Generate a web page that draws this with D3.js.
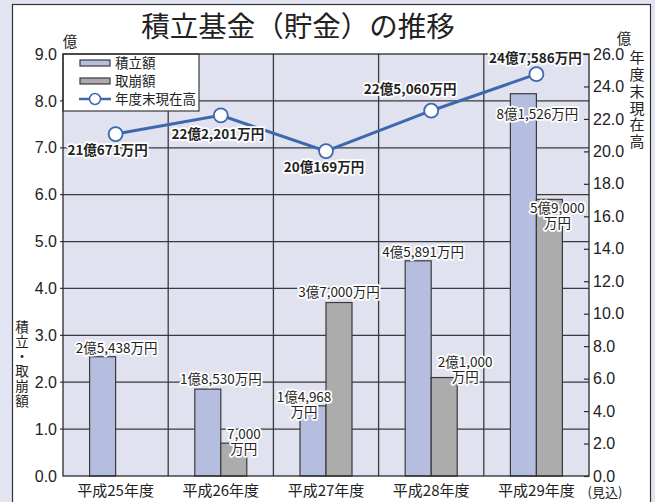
<!DOCTYPE html>
<html>
<head>
<meta charset="utf-8">
<script src="https://cdn.jsdelivr.net/npm/d3@7"></script>
<style>
  body { margin: 0; background: #e3e4f1; }
  svg { display: block; }
  text { font-family: "Liberation Sans", "Noto Sans CJK JP", sans-serif; fill: #222; }
  .jp { font-family: "Noto Sans CJK JP", sans-serif; }
  .vert { writing-mode: vertical-rl; text-orientation: upright; }
  .halo { paint-order: stroke; stroke: #fff; stroke-width: 3.5px; stroke-linejoin: round; }
</style>
</head>
<body>
<svg id="chart"></svg>
<script>
// data (億円)
var categories = ["平成25年度", "平成26年度", "平成27年度", "平成28年度", "平成29年度"];
var tsumitate = [2.5438, 1.8530, 1.4968, 4.5891, 8.1526];
var torikuzushi = [null, 0.70, 3.70, 2.10, 5.90];
var genzaidaka = [21.0671, 22.2201, 20.0169, 22.5060, 24.7586];
var tsumitateLabels = [["2億5,438万円"], ["1億8,530万円"], ["1億4,968", "万円"], ["4億5,891万円"], ["8億1,526万円"]];
var torikuzushiLabels = [null, ["7,000", "万円"], ["3億7,000万円"], ["2億1,000", "万円"], ["5億9,000", "万円"]];
var genzaidakaLabels = ["21億671万円", "22億2,201万円", "20億169万円", "22億5,060万円", "24億7,586万円"];
var leftTicks = [0, 1, 2, 3, 4, 5, 6, 7, 8, 9];
var rightTicks = [0, 2, 4, 6, 8, 10, 12, 14, 16, 18, 20, 22, 24, 26];

// label nudges: [dx from band center, dy from mark top]
var tsumitateNudge = [[1, -4], [0, -5], [-22, -3.5], [-8, -3.5], [1, 25.5]];
var torikuzushiNudge = [null, [23, -4.5], [13, -5.5], [34, -10.5], [21, 13.5]];
var genzaidakaNudge = [[-8, 21], [-3, 24], [-2, 21], [-21, -17], [-1, -11]];

var width = 655, height = 502;
var margin = { top: 54, right: 66, bottom: 26, left: 63 };
var plotW = width - margin.left - margin.right;
var plotH = height - margin.top - margin.bottom;

var svg = d3.select("#chart").attr("width", width).attr("height", height);

// white panel
svg.append("rect").attr("x", 12.5).attr("y", 4.5).attr("width", 638).attr("height", 520)
  .attr("fill", "#fff").attr("stroke", "#333").attr("stroke-width", 1.2);

// title
svg.append("text").attr("class", "jp").attr("x", 298).attr("y", 37)
  .attr("text-anchor", "middle").style("font-size", "28.5px")
  .text("積立基金（貯金）の推移");

var chart = svg.append("g").attr("transform", "translate(" + margin.left + "," + margin.top + ")");

var x = d3.scaleBand().domain(categories).range([0, plotW]).padding(0);
var yL = d3.scaleLinear().domain([0, 9]).range([plotH, 0]);
var yR = d3.scaleLinear().domain([0, 26]).range([plotH, 0]);
var barW = 26;

// plot background
chart.append("rect").attr("width", plotW).attr("height", plotH).attr("fill", "#e1e2f0");

// grid lines
chart.selectAll(".hgrid").data(leftTicks.slice(1, -1)).enter().append("line")
  .attr("x1", -3).attr("x2", plotW)
  .attr("y1", function (d) { return yL(d); }).attr("y2", function (d) { return yL(d); })
  .attr("stroke", "#3a3a3a").attr("stroke-width", 1.3);
chart.selectAll(".vgrid").data(categories.slice(1)).enter().append("line")
  .attr("x1", function (d) { return x(d); }).attr("x2", function (d) { return x(d); })
  .attr("y1", 0).attr("y2", plotH)
  .attr("stroke", "#3a3a3a").attr("stroke-width", 1.3);

// bars
chart.selectAll(".bar1").data(tsumitate).enter().append("rect")
  .attr("x", function (d, i) { return x(categories[i]) + x.bandwidth() / 2 - barW; })
  .attr("y", function (d) { return yL(d); })
  .attr("width", barW)
  .attr("height", function (d) { return plotH - yL(d); })
  .attr("fill", "#b5bedf").attr("stroke", "#3a3a3a").attr("stroke-width", 1.2);

chart.selectAll(".bar2").data(torikuzushi).enter().filter(function (d) { return d != null; })
  .append("rect")
  .attr("x", function (d) { return x(categories[torikuzushi.indexOf(d)]) + x.bandwidth() / 2; })
  .attr("y", function (d) { return yL(d); })
  .attr("width", barW)
  .attr("height", function (d) { return plotH - yL(d); })
  .attr("fill", "#acacac").attr("stroke", "#3a3a3a").attr("stroke-width", 1.2);

// legend box
var legend = chart.append("g");
legend.append("rect").attr("x", 0).attr("y", 0).attr("width", 136).attr("height", 57)
  .attr("fill", "#fff").attr("stroke", "#3a3a3a").attr("stroke-width", 1.2);
legend.append("rect").attr("x", 17).attr("y", 6).attr("width", 30).attr("height", 6)
  .attr("fill", "#b5bedf").attr("stroke", "#3a3a3a").attr("stroke-width", 1.2);
legend.append("rect").attr("x", 17).attr("y", 24).attr("width", 30).attr("height", 6)
  .attr("fill", "#acacac").attr("stroke", "#3a3a3a").attr("stroke-width", 1.2);
legend.append("line").attr("x1", 16).attr("x2", 48).attr("y1", 45).attr("y2", 45)
  .attr("stroke", "#3d68ad").attr("stroke-width", 2.5);
legend.append("circle").attr("cx", 32).attr("cy", 45).attr("r", 5.5)
  .attr("fill", "#fff").attr("stroke", "#3d68ad").attr("stroke-width", 1.5);
[["積立額", 9], ["取崩額", 27], ["年度末現在高", 45]].forEach(function (it) {
  legend.append("text").attr("class", "jp").attr("x", 52).attr("y", it[1])
    .attr("dy", "0.35em").style("font-size", "13.5px").text(it[0]);
});

// frame
chart.append("rect").attr("width", plotW).attr("height", plotH)
  .attr("fill", "none").attr("stroke", "#2a2a2a").attr("stroke-width", 1.3);

// axes
var leftAxis = chart.append("g")
  .call(d3.axisLeft(yL).tickValues(leftTicks).tickSize(0).tickPadding(6).tickFormat(d3.format(".1f")));
leftAxis.select(".domain").remove();
leftAxis.selectAll("text").style("font-size", "16px").style("font-family", "Liberation Sans, sans-serif").attr("fill", "#222");

var rightAxis = chart.append("g").attr("transform", "translate(" + plotW + ",0)")
  .call(d3.axisRight(yR).tickValues(rightTicks).tickSizeInner(-5).tickSizeOuter(0).tickPadding(4).tickFormat(d3.format(".1f")));
rightAxis.select(".domain").remove();
rightAxis.selectAll("line").attr("stroke", "#2a2a2a").attr("stroke-width", 1.2);
rightAxis.selectAll("text").style("font-size", "16px").style("font-family", "Liberation Sans, sans-serif").attr("fill", "#222");

var xAxis = chart.append("g").attr("transform", "translate(0," + plotH + ")")
  .call(d3.axisBottom(x).tickSize(0).tickPadding(9));
xAxis.select(".domain").remove();
xAxis.selectAll("text").attr("class", "jp").style("font-size", "15px").attr("fill", "#222");

chart.append("text").attr("class", "jp").attr("x", plotW + 16).attr("y", plotH + 21)
  .attr("text-anchor", "middle").style("font-size", "13px").text("(見込)");

// unit labels
svg.append("text").attr("class", "jp").attr("x", 70).attr("y", 47).attr("text-anchor", "middle")
  .style("font-size", "14.5px").text("億");
svg.append("text").attr("class", "jp").attr("x", 624).attr("y", 44).attr("text-anchor", "middle")
  .style("font-size", "14.5px").text("億");

// vertical axis titles
svg.append("text").attr("class", "jp vert").attr("x", 22).attr("y", 320)
  .style("font-size", "13.5px").style("letter-spacing", "1.3px").text("積立・取崩額");
svg.append("text").attr("class", "jp vert").attr("x", 637).attr("y", 50)
  .style("font-size", "15px").style("letter-spacing", "1.8px").text("年度末現在高");

// line series
var cx = function (i) { return x(categories[i]) + x.bandwidth() / 2; };
var line = d3.line().x(function (d, i) { return cx(i); }).y(function (d) { return yR(d); });
chart.append("path").datum(genzaidaka).attr("d", line)
  .attr("fill", "none").attr("stroke", "#3d68ad").attr("stroke-width", 3);
chart.selectAll(".pt").data(genzaidaka).enter().append("circle")
  .attr("cx", function (d, i) { return cx(i); }).attr("cy", function (d) { return yR(d); })
  .attr("r", 7).attr("fill", "#fff").attr("stroke", "#3d68ad").attr("stroke-width", 1.8);

// labels
function multi(lines, px, py) {
  var t = chart.append("text").attr("class", "jp halo").attr("text-anchor", "middle")
    .style("font-size", "13.5px");
  lines.forEach(function (s, k) {
    t.append("tspan").attr("x", px).attr("y", py + k * 15).text(s);
  });
}
tsumitate.forEach(function (d, i) {
  multi(tsumitateLabels[i], cx(i) + tsumitateNudge[i][0], yL(d) + tsumitateNudge[i][1]);
});
torikuzushi.forEach(function (d, i) {
  if (d == null) return;
  multi(torikuzushiLabels[i], cx(i) + torikuzushiNudge[i][0], yL(d) + torikuzushiNudge[i][1]);
});
genzaidaka.forEach(function (d, i) {
  chart.append("text").attr("class", "jp halo").attr("text-anchor", "middle")
    .attr("x", cx(i) + genzaidakaNudge[i][0]).attr("y", yR(d) + genzaidakaNudge[i][1])
    .style("font-size", "13.5px").style("font-weight", "bold").text(genzaidakaLabels[i]);
});
</script>
</body>
</html>
